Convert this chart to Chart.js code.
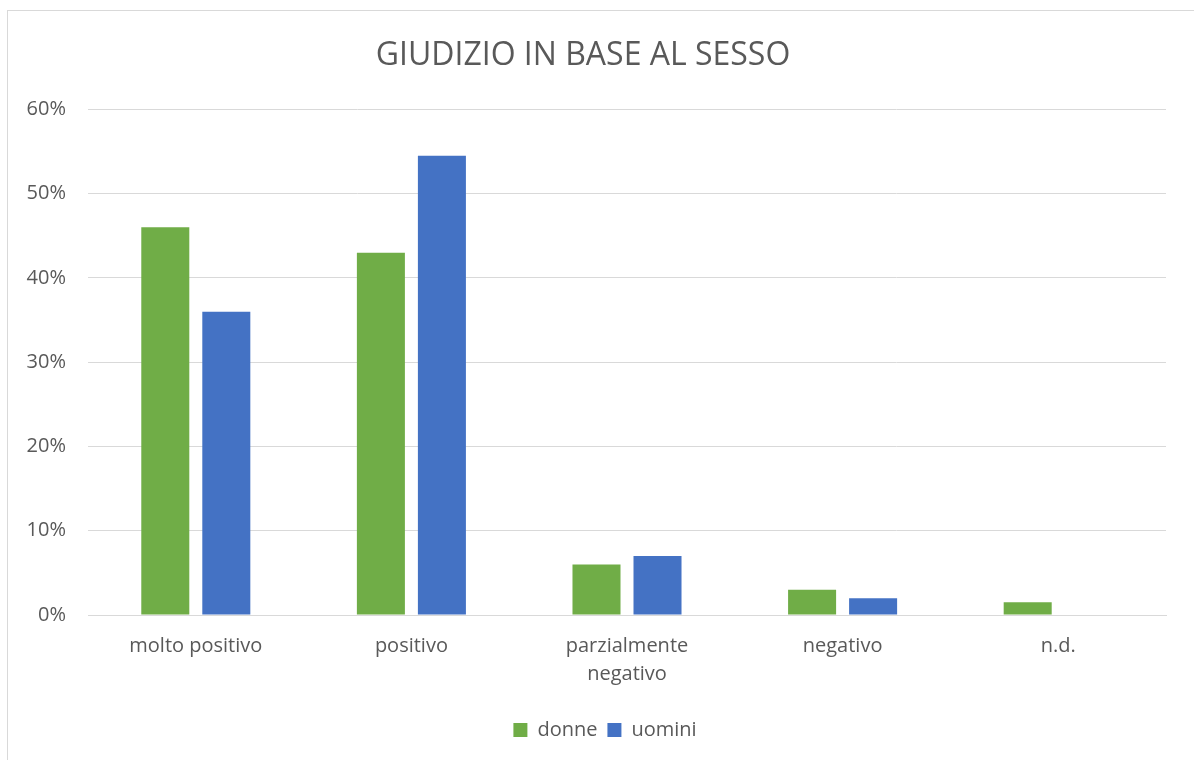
<!DOCTYPE html>
<html lang="it">
<head>
<meta charset="UTF-8">
<title>Giudizio in base al sesso</title>
<script src="https://cdn.jsdelivr.net/npm/chart.js"></script>
<style>
  html, body { margin: 0; padding: 0; background: #fff; overflow: hidden; }
  .frame { position: absolute; left: 7px; top: 10px; width: 1220px; height: 800px; border: 1px solid #d9d9d9; }
  .wrap { position: absolute; left: 0; top: 0; width: 1194px; height: 760px; }
</style>
</head>
<body>
<div class="frame"></div>
<div class="wrap"><canvas id="chart"></canvas></div>
<script>
// dati (percentuali)
const categories = ['molto positivo', 'positivo', ['parzialmente', 'negativo'], 'negativo', 'n.d.'];
const donne = [46, 43, 6, 3, 1.5];
const uomini = [36, 54.5, 7, 2, 0];
const yTicks = [0, 10, 20, 30, 40, 50, 60];

const textColor = '#595959';
const font = "'Open Sans', sans-serif";

// legenda un po' spostata a destra come nell'originale
const shiftLegend = {
  id: 'shiftLegend',
  afterLayout(chart) {
    chart.legend.left += 22;
    chart.legend.right += 22;
  }
};

new Chart(document.getElementById('chart'), {
  type: 'bar',
  data: {
    labels: categories,
    datasets: [
      { label: 'donne', data: donne, backgroundColor: '#70ad47', categoryPercentage: 0.566, barPercentage: 0.787 },
      { label: 'uomini', data: uomini, backgroundColor: '#4472c4', categoryPercentage: 0.566, barPercentage: 0.787 }
    ]
  },
  plugins: [shiftLegend],
  options: {
    responsive: true,
    maintainAspectRatio: false,
    animation: false,
    layout: { padding: { left: 0, right: 28, top: 0, bottom: 10 } },
    plugins: {
      title: {
        display: true,
        text: 'GIUDIZIO IN BASE AL SESSO',
        color: textColor,
        font: { family: font, size: 32, weight: 'normal' },
        padding: { top: 37, bottom: 34 }
      },
      legend: {
        position: 'bottom',
        labels: { color: textColor, font: { family: font, size: 20 }, boxWidth: 14, boxHeight: 14, padding: 10 }
      },
      tooltip: { enabled: false }
    },
    scales: {
      x: {
        grid: { display: false },
        border: { color: '#d9d9d9', width: 1 },
        afterFit: s => { s.height += 13; },
        ticks: { color: textColor, font: { family: font, size: 20, lineHeight: 1.4 }, padding: 9, maxRotation: 0 }
      },
      y: {
        min: yTicks[0],
        max: yTicks[yTicks.length - 1],
        afterFit: s => { s.width = 88; },
        afterBuildTicks: s => { s.ticks = yTicks.map(v => ({ value: v })); },
        grid: { color: '#d9d9d9', drawTicks: false },
        border: { display: false },
        ticks: { color: textColor, font: { family: font, size: 20 }, padding: 22, callback: v => v + '%' }
      }
    }
  }
});
</script>
</body>
</html>
